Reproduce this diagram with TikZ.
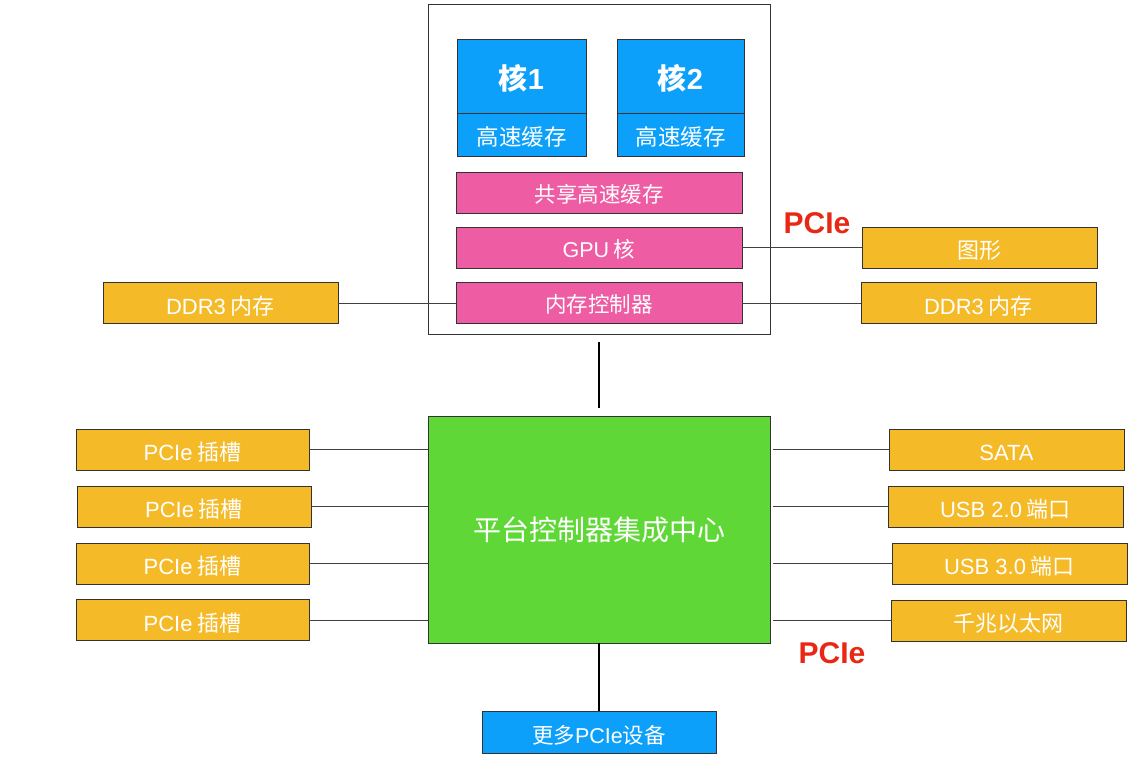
\documentclass[tikz,border=0pt]{standalone}
\usepackage{fontspec}
\newfontfamily\cjk{Noto Sans CJK SC}
\newfontfamily\lat{Liberation Sans}
\definecolor{cblue}{RGB}{12,160,250}
\definecolor{cpink}{RGB}{238,92,163}
\definecolor{corange}{RGB}{245,186,40}
\definecolor{cgreen}{RGB}{95,216,55}
\definecolor{cred}{RGB}{232,40,20}
\tikzset{
  box/.style={draw=black!80, line width=0.8pt, inner sep=0pt, text=white, font=\cjk, text depth=2pt},
  bluebox/.style={box, fill=cblue},
  pinkbox/.style={box, fill=cpink, minimum width=286, minimum height=41, font=\cjk\fontsize{21.5}{24}\selectfont, text height=21.6pt},
  orangebox/.style={box, fill=corange, minimum width=234, minimum height=41, font=\cjk\fontsize{22}{25}\selectfont, text height=24pt},
  conn/.style={draw=black!75, line width=1pt},
  vconn/.style={draw=black, line width=2pt},
  redlabel/.style={text=cred, font=\lat\bfseries\fontsize{30}{34}\selectfont, inner sep=0pt}
}
\begin{document}
\begin{tikzpicture}[x=1pt,y=-1pt]
\useasboundingbox (0,0) rectangle (1144,766);
% CPU package
\node[draw=black!80, line width=0.8pt, fill=white, minimum width=342, minimum height=330, inner sep=0pt] (cpu) at (599,169) {};
% cores
\node[bluebox, minimum width=129, minimum height=74, font=\cjk\bfseries\fontsize{29}{32}\selectfont, text height=28.4pt] (c1) at (521.5,76) {核{\lat\bfseries 1}};
\node[bluebox, minimum width=129, minimum height=43, font=\cjk\fontsize{22.5}{25}\selectfont, text height=24.4pt] (k1) at (521.5,134.5) {高速缓存};
\node[bluebox, minimum width=127, minimum height=74, font=\cjk\bfseries\fontsize{29}{32}\selectfont, text height=28.4pt] (c2) at (680.5,76) {核{\lat\bfseries 2}};
\node[bluebox, minimum width=127, minimum height=43, font=\cjk\fontsize{22.5}{25}\selectfont, text height=24.4pt] (k2) at (680.5,134.5) {高速缓存};
% shared blocks
\node[pinkbox] (shared) at (599,192.5) {共享高速缓存};
\node[pinkbox] (gpu) at (599,247.5) {{\lat GPU} 核};
\node[pinkbox] (mem) at (599,303) {内存控制器};
% external memory & graphics
\node[orangebox, minimum width=235] (ddrl) at (220.5,303) {{\lat DDR3} 内存};
\node[orangebox, minimum width=235] (ddrr) at (978.5,303) {{\lat DDR3} 内存};
\node[orangebox, minimum width=235] (gfx) at (979.5,247.5) {图形};
% PCH
\node[box, fill=cgreen, minimum width=342, minimum height=227, font=\cjk\fontsize{28}{32}\selectfont, text height=23.6pt] (pch) at (599,529.5) {平台控制器集成中心};
\node[bluebox, minimum width=234, minimum height=42, font=\cjk\fontsize{21.5}{25}\selectfont, text height=24.6pt] (more) at (599,732) {更多{\lat PCIe}设备};
% left slots
\node[orangebox, minimum width=233] (s1) at (192.5,449.5) {{\lat PCIe} 插槽};
\node[orangebox, minimum width=234] (s2) at (194,506.5) {{\lat PCIe} 插槽};
\node[orangebox, minimum width=233] (s3) at (192.5,563.5) {{\lat PCIe} 插槽};
\node[orangebox, minimum width=233] (s4) at (192.5,620) {{\lat PCIe} 插槽};
% right devices
\node[orangebox, minimum width=235] (sata) at (1006.5,449.5) {{\lat SATA}};
\node[orangebox, minimum width=235] (usb2) at (1005.5,506.5) {{\lat USB 2.0} 端口};
\node[orangebox, minimum width=235] (usb3) at (1009.5,563.5) {{\lat USB 3.0} 端口};
\node[orangebox, minimum width=235] (gbe) at (1008.5,620.5) {千兆以太网};
% labels
\node[redlabel] (pcie1) at (817,223) {PCIe};
\node[redlabel] (pcie2) at (832,653) {PCIe};
% connectors
\draw[conn] (ddrl.east) -- (mem.west);
\draw[conn] (mem.east) -- (ddrr.west);
\draw[conn] (gpu.east) -- (gfx.west);
\draw[vconn, shorten >=8pt, shorten <=8pt] (cpu.south) -- (pch.north);
\draw[vconn] (pch.south) -- (more.north);
\foreach \s in {s1,s2,s3,s4}{
  \draw[conn] (\s.east) -- (\s.east -| pch.west);
}
\foreach \s in {sata,usb2,usb3,gbe}{
  \draw[conn, shorten <=3pt] (\s.west -| pch.east) -- (\s.west);
}
\end{tikzpicture}
\end{document}
